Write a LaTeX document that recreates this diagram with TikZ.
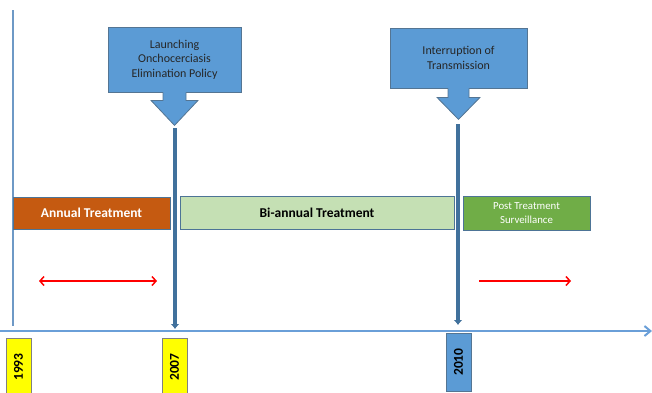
\documentclass[tikz,border=0pt]{standalone}
\usepackage{fontspec}
\setmainfont{Carlito}
\usetikzlibrary{arrows.meta}

\definecolor{callblue}{HTML}{5B9BD5}
\definecolor{edgeblue}{HTML}{41719C}
\definecolor{axisblue}{HTML}{6A9FD8}
\definecolor{annualorange}{HTML}{C55A11}
\definecolor{bigreen}{HTML}{C5E0B4}
\definecolor{postgreen}{HTML}{70AD47}
\definecolor{yearyellow}{HTML}{FFFF00}

\tikzset{
  callbox/.style={fill=callblue,draw=edgeblue!70!gray,line width=0.8pt,align=center,
    font=\fontsize{12}{14.5}\selectfont,text=black!85},
  phasebox/.style={draw=edgeblue!80!gray,line width=0.8pt,minimum height=32pt,align=center},
  yearbox/.style={draw=gray,line width=0.8pt,rotate=90,minimum width=58pt,minimum height=25pt,
    inner sep=0pt,font=\fontsize{13.5}{14}\bfseries},
  marker/.style={edgeblue,line width=4pt,-{Latex[length=5pt,width=9pt]}},
  span/.style={red,line width=1.5pt}
}

\begin{document}
\begin{tikzpicture}[x=1pt,y=-1pt]
   \useasboundingbox (0,0) rectangle (652,392);

   % axes
   \coordinate (ytop) at (13,10);
   \coordinate (ybot) at (13,326);
   \coordinate (xl) at (0,331);
   \coordinate (xr) at (652,331);
   \draw [axisblue!80!gray,line width=2pt] (ytop) -- (ybot) ;
   \draw [axisblue,line width=2pt,-{Straight Barb[length=6pt,width=10pt]}] (xl) -- (xr) ;

   % callouts
   \node (launch) [callbox,minimum width=133pt,minimum height=65pt] at (174.5,59.5)
      {Launching\\Onchocerciasis\\Elimination Policy};
   \fill [callblue] ([xshift=-11.5pt]launch.south) ++(0,-1) -- ++(0,9) -- ++(-12,0) -- ++(23.5,25)
      -- ++(23.5,-25) -- ++(-12,0) -- ++(0,-9) -- cycle ;
   \draw [edgeblue!70!gray,line width=0.8pt] ([xshift=-11.5pt]launch.south) -- ++(0,8) -- ++(-12,0)
      -- ++(23.5,25) -- ++(23.5,-25) -- ++(-12,0) -- ++(0,-8) ;

   \node (interrupt) [callbox,minimum width=137pt,minimum height=60pt] at (458.5,58)
      {Interruption of\\Transmission};
   \fill [callblue] ([xshift=-10.5pt]interrupt.south) ++(0,-1) -- ++(0,10) -- ++(-11,0) -- ++(21.5,22)
      -- ++(21.5,-22) -- ++(-11,0) -- ++(0,-10) -- cycle ;
   \draw [edgeblue!70!gray,line width=0.8pt] ([xshift=-10.5pt]interrupt.south) -- ++(0,9) -- ++(-11,0)
      -- ++(21.5,22) -- ++(21.5,-22) -- ++(-11,0) -- ++(0,-9) ;

   % markers down to the axis
   \coordinate (m1a) at (175,128);
   \coordinate (m1b) at (175,329);
   \coordinate (m2a) at (458,124);
   \coordinate (m2b) at (458,325);
   \draw [marker] (m1a) -- (m1b) ;
   \draw [marker] (m2a) -- (m2b) ;

   % phases
   \node (annual) [phasebox,fill=annualorange,minimum width=157pt,text=white,
      font=\fontsize{13.5}{15}\bfseries] at (91.5,213) {Annual Treatment};
   \node (biannual) [phasebox,fill=bigreen,minimum width=274pt,minimum height=33pt,
      font=\fontsize{13.5}{15}\bfseries] at (317,212.5) {Bi-annual Treatment};
   \node (post) [phasebox,fill=postgreen,minimum width=127pt,minimum height=34pt,text=white,
      font=\fontsize{10.8}{14}\selectfont,inner sep=1pt] at (526.5,213) {Post Treatment\\Surveillance};

   % spans
   \coordinate (s1a) at (39,281);
   \coordinate (s1b) at (157,281);
   \coordinate (s2a) at (479,281);
   \coordinate (s2b) at (571,281);
   \draw [span,{Straight Barb[length=4pt,width=9pt]}-{Straight Barb[length=4pt,width=9pt]}] (s1a) -- (s1b) ;
   \draw [span,-{Straight Barb[length=4pt,width=9pt]}] (s2a) -- (s2b) ;

   % years
   \node (y1993) [yearbox,fill=yearyellow] at (18.5,367) {1993};
   \node (y2007) [yearbox,fill=yearyellow] at (174.5,367) {2007};
   \node (y2010) [yearbox,fill=callblue,draw=edgeblue!70!gray] at (458.5,362) {2010};
\end{tikzpicture}
\end{document}
